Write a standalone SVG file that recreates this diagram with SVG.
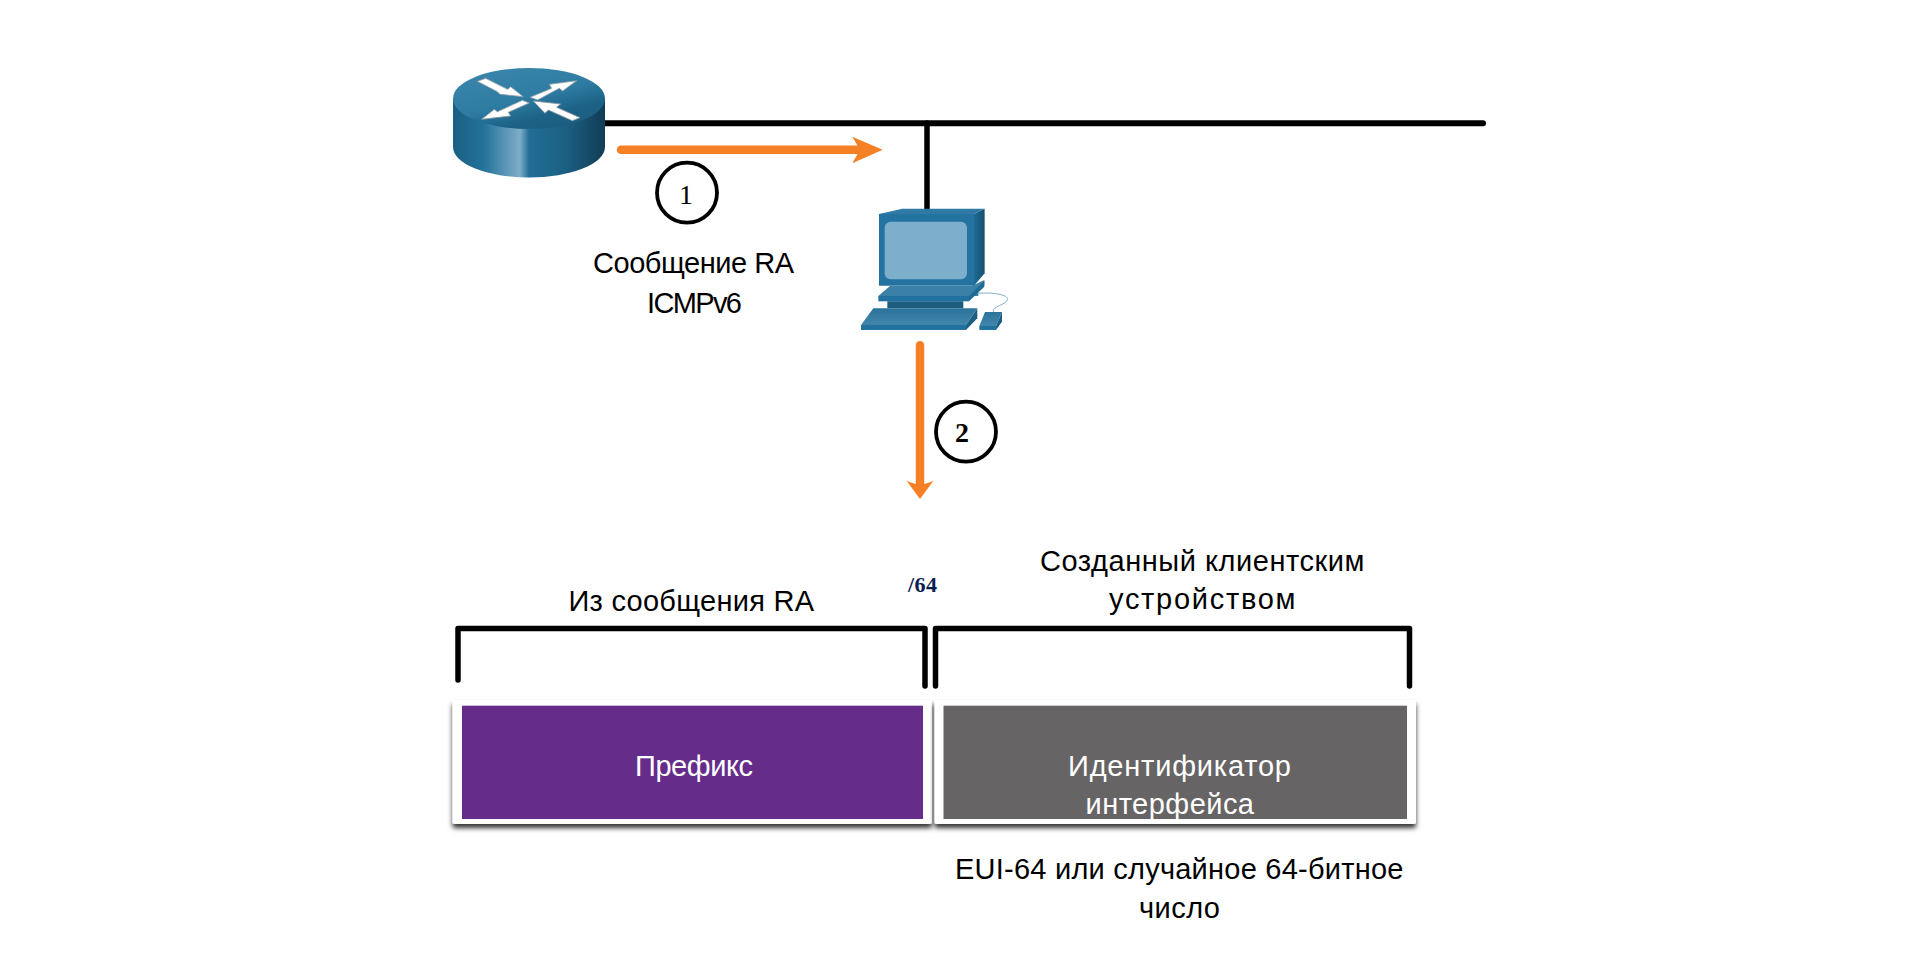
<svg xmlns="http://www.w3.org/2000/svg" width="1920" height="960" viewBox="0 0 1920 960">
<style>
text{font-family:"Liberation Sans",Arial,sans-serif;font-size:29px;fill:#000}
.w{fill:#fff}
.num{font-family:"Liberation Serif","Times New Roman",serif;font-size:28px;text-anchor:middle}
.wire{fill:none;stroke:#000;stroke-linecap:round}
.flow{fill:none;stroke:#F58025;stroke-width:8.5;stroke-linecap:round}
.head{fill:#F58025}
.brk{fill:none;stroke:#000;stroke-width:5.5;stroke-linecap:round;stroke-linejoin:round}
.badge{fill:#fff;stroke:#000;stroke-width:3.8}
.card{fill:#fff;filter:url(#sh)}
</style>
<defs>
<filter id="sh" x="-5%" y="-10%" width="110%" height="125%"><feDropShadow dx="0" dy="4" stdDeviation="2.4" flood-color="#000" flood-opacity=".8"/></filter>
<linearGradient id="rs" x1="0" x2="1" y1="0" y2="0"><stop offset="0" stop-color="#1b5f83"/><stop offset=".2" stop-color="#22729a"/><stop offset=".44" stop-color="#7fadc9"/><stop offset=".5" stop-color="#216e96"/><stop offset=".75" stop-color="#1b5f82"/><stop offset="1" stop-color="#113c55"/></linearGradient>
<linearGradient id="rt" x1=".15" x2=".8" y1="0" y2="1"><stop offset="0" stop-color="#3a86ab"/><stop offset=".5" stop-color="#2f7ca3"/><stop offset=".75" stop-color="#1d6387"/><stop offset="1" stop-color="#1b5c7e"/></linearGradient>
<linearGradient id="pv" x1="0" x2="0" y1="0" y2="1"><stop offset="0" stop-color="#2a739c"/><stop offset="1" stop-color="#4386ab"/></linearGradient>
<linearGradient id="ps" x1="0" x2="1" y1="0" y2="0"><stop offset="0" stop-color="#1f6b93"/><stop offset="1" stop-color="#16506f"/></linearGradient>
</defs>
<g id="connectors">
<path class="wire" stroke-width="6" d="M600 123.3H1483"/>
<path class="wire" stroke-width="5.5" d="M927 123V212"/>
<path class="flow" d="M621 149.7H862"/>
<path class="head" d="M882.7 149.7L852.3 136.7L860 149.7L852.3 163.3Z"/>
<path class="flow" d="M920 345.3V487"/>
<path class="head" d="M920 499L906.7 481L920 485.5L933.3 481Z"/>
</g>
<g id="router">
<path d="M453 98V147A76 30.5 0 0 0 605 147V98Z" fill="url(#rs)"/>
<ellipse cx="529" cy="98.5" rx="76" ry="30.5" fill="url(#rt)"/>
<g transform="translate(440 60) scale(.3333)" fill="#fff" stroke="#8a9aa5" stroke-width="2.5" stroke-linejoin="round">
<path d="M112 64L137 55L203 88L212 80L250 110L180 103L172 95Z"/>
<path d="M270 112L335 85L328 73L410 62L368 93L358 85L293 120Z"/>
<path d="M247 121L268 129L205 157L212 168L125 178L163 148L172 155Z"/>
<path d="M280 123L362 132L350 142L420 173L397 182L325 150L315 160Z"/>
</g>
</g>
<g id="computer" transform="translate(840 190) scale(.3333)">
<path d="M415 310C460 306 505 315 503 328C500 345 455 348 460 366" fill="none" stroke="#7fb0cc" stroke-width="3"/>
<path d="M117 72L187 56H434L402 72Z" fill="#2f7ba5"/>
<path d="M402 72L434 56V250L402 287Z" fill="url(#ps)"/>
<path d="M115 318L150 288H395L433 270V285L415 305V318Z" fill="#3b80a7"/>
<path d="M387 318L433 272V290L387 334Z" fill="#1f6b93"/>
<rect x="115" y="318" width="272" height="16" fill="#22729f"/>
<path d="M142 334H370V355H142Z" fill="#1c5d80"/>
<path d="M117 72H402V287H117Z" fill="#23729f"/>
<rect x="134" y="95" width="247" height="173" rx="18" fill="#7daecb"/>
<path d="M63 405L100 355H412L378 405Z" fill="url(#pv)"/>
<rect x="63" y="405" width="315" height="15" fill="#22729f"/>
<path d="M378 405L412 355V385L378 420Z" fill="#1c5f83"/>
<path d="M418 408L435 366H486L468 408Z" fill="url(#pv)"/>
<rect x="418" y="408" width="50" height="12" fill="#22729f"/>
<path d="M468 408L486 366V395L468 420Z" fill="#1c5f83"/>
</g>
<g id="step1"><circle class="badge" cx="687" cy="192.7" r="30"/><text class="num" x="686" y="204">1</text></g>
<g id="step2"><circle class="badge" cx="966" cy="431.7" r="30"/><text class="num" x="962" y="442" font-weight="bold">2</text></g>
<g id="ra-label">
<text x="593" y="273" textLength="201" lengthAdjust="spacing">Сообщение RA</text>
<text x="647" y="312.5" textLength="95" lengthAdjust="spacing">ICMPv6</text>
</g>
<g id="slash64"><text x="908" y="592" style="font-family:'Liberation Serif','Times New Roman',serif;font-weight:bold;font-size:22px;fill:#0b1d4f" textLength="29">/64</text></g>
<g id="from-ra"><text x="568.5" y="611" textLength="245.5" lengthAdjust="spacing">Из сообщения RA</text>
<path class="brk" d="M458 680V628.5H925V686"/></g>
<g id="client-made"><text x="1040" y="570.7" textLength="324.5" lengthAdjust="spacing">Созданный клиентским</text>
<text x="1109" y="609" textLength="186.5" lengthAdjust="spacing">устройством</text>
<path class="brk" d="M935.5 686V628.5H1409.5V686"/></g>
<g id="prefix">
<rect class="card" x="452.5" y="700" width="479.5" height="124" rx="2"/>
<rect x="462" y="705.7" width="461" height="113.3" fill="#652D89"/>
<text class="w" x="635" y="775.7" textLength="118" lengthAdjust="spacing">Префикс</text>
</g>
<g id="iid">
<rect class="card" x="934.5" y="700" width="481.5" height="124" rx="2"/>
<rect x="943.5" y="705.7" width="463.5" height="113.3" fill="#676465"/>
<text class="w" x="1068" y="775.7" textLength="223" lengthAdjust="spacing">Идентификатор</text>
<text class="w" x="1085.5" y="814" textLength="168.5" lengthAdjust="spacing">интерфейса</text>
</g>
<g id="eui-label">
<text x="955" y="879" textLength="448.5" lengthAdjust="spacing">EUI-64 или случайное 64-битное</text>
<text x="1139" y="918" textLength="81" lengthAdjust="spacing">число</text>
</g>
</svg>
